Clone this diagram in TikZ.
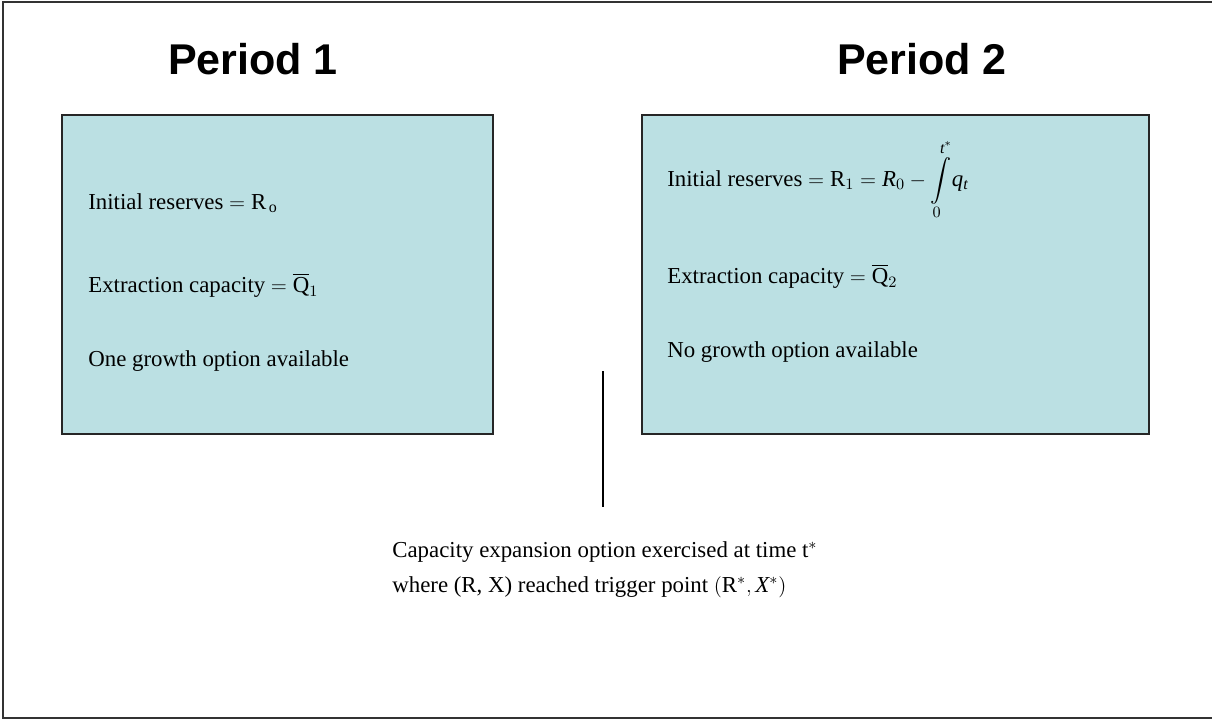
\documentclass[tikz,border=0pt]{standalone}
\usepackage{amsmath}
\usepackage{fontspec}
\setmainfont{Liberation Serif}
\newfontfamily\titlefont{Liberation Sans}
\usetikzlibrary{positioning}

\definecolor{boxfill}{RGB}{187,224,227}

\tikzset{
  period/.style={font=\titlefont\bfseries\fontsize{24.5}{28}\selectfont,anchor=base,inner sep=0pt},
  boxtext/.style={font=\fontsize{13}{15}\selectfont,anchor=base west,inner sep=0pt},
  periodbox/.style={fill=boxfill,draw=black!85,line width=1.1pt}
}

\begin{document}
\begin{tikzpicture}[x=0.02cm,y=-0.02cm]

\useasboundingbox (0,0) rectangle (1212,720);

% frame
\draw[line width=1pt,black!80] (1212,2)--(3,2)--(3,718)--(1212,718);

% boxes
\draw[periodbox] (62,115) rectangle (493,434);
\draw[periodbox] (642,115) rectangle (1149,434);

\node[period] (p1) at (253,74) {Period 1};
\node[period] (p2) at (922,74) {Period 2};

% period 1
\node[boxtext] (res1) at (88,209) {Initial reserves $=\mathrm{R}_{\,\mathrm{o}}$};
\node[boxtext] (cap1) at (88,292) {Extraction capacity $=\overline{\mathrm{Q}}_{1}$};
\node[boxtext] (opt1) at (88,366) {One growth option available};

% period 2
\node[boxtext] (res2) at (667,186) {Initial reserves $=\mathrm{R}_{1}=\mathit{R}_{0}-\displaystyle\int\limits_{0}^{\mathit{t}^{*}}\!\mathit{q}_{\mathit{t}}$};
\node[boxtext] (cap2) at (667,283) {Extraction capacity $=\overline{\mathrm{Q}}_{2}$};
\node[boxtext] (opt2) at (667,357) {No growth option available};

% exercise time
\coordinate (ttop) at (603,371);
\coordinate (tbot) at (603,507);
\draw[line width=1pt] (ttop)--(tbot);

\node[boxtext] (ex1) at (392,557) {Capacity expansion option exercised at time $\mathrm{t}^{*}$};
\node[boxtext] (ex2) at (392,592) {where (R, X) reached trigger point $(\mathrm{R}^{*},\mathit{X}^{*})$};

\end{tikzpicture}
\end{document}
